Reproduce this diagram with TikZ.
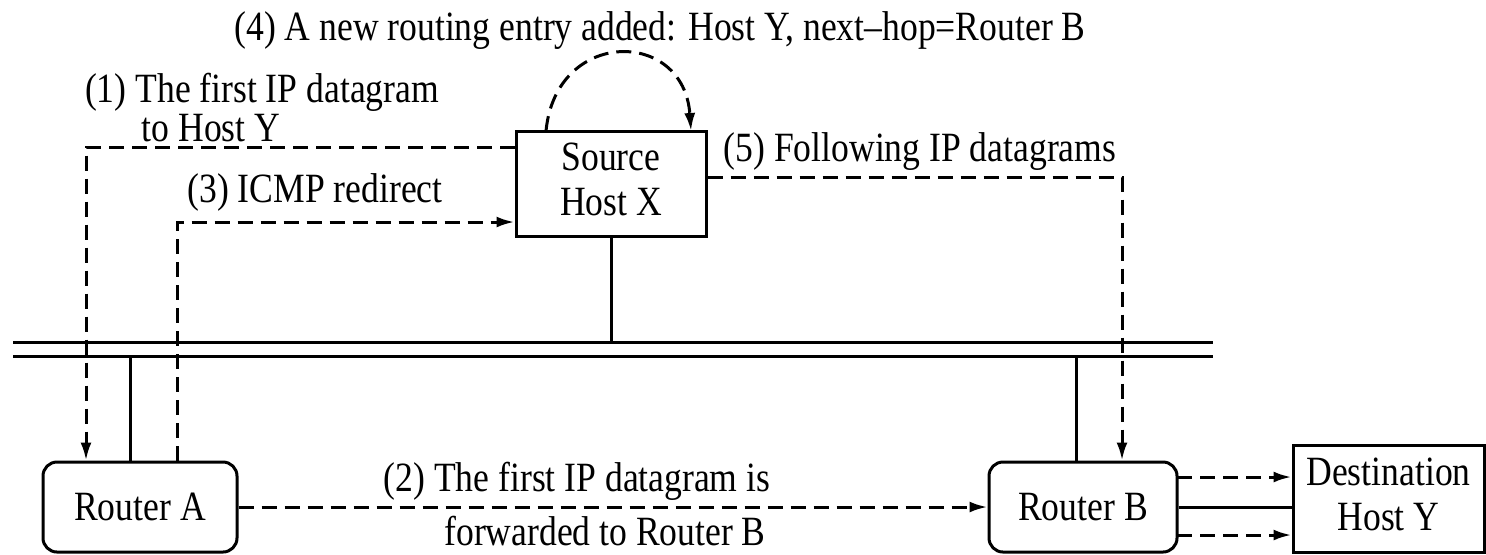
\documentclass[tikz,border=0pt]{standalone}
\usepackage{fontspec}
\usepackage{graphicx}
\setmainfont{Liberation Serif}
\usetikzlibrary{arrows.meta}
% slightly tall lettering
\newcommand{\tall}[1]{\scalebox{1}[1.17]{#1}}
\newcommand{\twolines}[2]{\tall{\begin{tabular}{@{}c@{}}#1\\[-1pt]#2\end{tabular}}}
\begin{document}
\begin{tikzpicture}[x=0.5pt,y=-0.5pt,
  every node/.style={font=\fontsize{17.8}{20}\selectfont, inner sep=0pt},
  hostbox/.style={draw, line width=1.5pt, align=center},
  routerbox/.style={draw, line width=1.5pt, rounded corners=7pt},
  wire/.style={line width=1.5pt},
  flow/.style={line width=1.5pt, dash pattern=on 7.5pt off 4pt,
    -{Latex[length=9pt,width=5.5pt]}},
  lbl/.style={anchor=base}]
\useasboundingbox (0,0) rectangle (1486,554);

% hosts and routers
\node[hostbox, minimum width=95pt, minimum height=52.5pt] (sx) at (611,183.5) {\twolines{Source}{Host X}};
\node[routerbox, minimum width=97pt, minimum height=45pt] (ra) at (140,507) {\tall{Router A}};
\node[routerbox, minimum width=94pt, minimum height=45pt] (rb) at (1083,507) {\tall{Router B}};
\node[hostbox, minimum width=95.5pt, minimum height=53.5pt] (dy) at (1388.5,498.5) {\twolines{Destination}{Host Y}};

% shared network segment
\coordinate (busL) at (13,342);
\coordinate (busR) at (1213,342);
\coordinate (busL2) at (13,356);
\coordinate (busR2) at (1213,356);
\draw[wire] (busL) -- (busR);
\draw[wire] (busL2) -- (busR2);

% attachments to the segment
\draw[wire] (sx.south) -- (sx.south |- busL);
\coordinate (tapA) at (130,356);
\draw[wire] (tapA) -- (tapA |- ra.north);
\coordinate (tapB) at (1076,356);
\draw[wire] (tapB) -- (tapB |- rb.north);
\draw[wire] (rb.east) -- (rb.east -| dy.west);

% (1) first datagram to router A
\coordinate (c1) at (86,147);
\draw[flow] (sx.west |- c1) -- (c1) -- (c1 |- ra.north);

% (3) ICMP redirect back to the source
\coordinate (c3) at (177,222);
\draw[flow] (c3 |- ra.north) -- (c3) -- (c3 -| sx.west);

% (5) following datagrams straight to router B
\coordinate (c5) at (1122,177);
\draw[flow] (c5 -| sx.east) -- (c5) -- (c5 |- rb.north);

% (2) forwarded datagram
\draw[flow] (ra.east) -- (rb.west);

% router B to destination
\coordinate (d1) at (1177,477);
\coordinate (d2) at (1177,535);
\draw[flow] (d1) -- (d1 -| dy.west);
\draw[flow] (d2) -- (d2 -| dy.west);

% (4) routing table update
\coordinate (u1) at (546,131);
\coordinate (u2) at (691,131);
\draw[flow] (u1) .. controls (556,28) and (684,28) .. (u2);

% labels
\node[lbl] (t4) at (660,40) {\tall{(4) A new routing entry added: Host Y, next--hop=Router B}};
\node[lbl] (t1a) at (262,102) {\tall{(1) The first IP datagram}};
\node[lbl] (t1b) at (211,141) {\tall{to Host Y}};
\node[lbl] (t3) at (315,202) {\tall{(3) ICMP redirect}};
\node[lbl] (t5) at (920,161) {\tall{(5) Following IP datagrams}};
\node[lbl] (t2a) at (577,491) {\tall{(2) The first IP datagram is}};
\node[lbl] (t2b) at (605,545) {\tall{forwarded to Router B}};
\end{tikzpicture}
\end{document}
